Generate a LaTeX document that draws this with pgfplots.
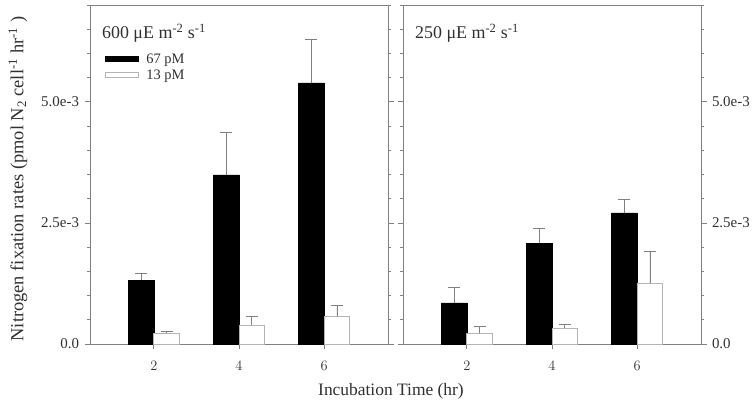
\documentclass[border=0pt]{standalone}
\usepackage{pgfplots}
\pgfplotsset{compat=1.18}
\usepackage{fontspec}
\setmainfont{Liberation Serif}
\definecolor{axgray}{HTML}{808080}
\definecolor{lgray}{HTML}{B4B4B4}
\definecolor{txt}{HTML}{303030}
\pgfplotsset{
  panel/.style={
    scale only axis, width=298bp, height=339bp,
    anchor=south west,
    xmin=0.5, xmax=7.5, ymin=0, ymax=7,
    axis line style={axgray, line width=0.8bp},
    tick style={axgray, line width=0.8bp},
    tick align=outside,
    major tick length=5.5bp, minor tick length=3bp,
    xtick={2,4,6}, xtick pos=bottom,
    ytick={0,2.5,5}, yticklabels={0.0,2.5e-3,5.0e-3},
    minor ytick={0,0.5,...,7},
    ytick pos=both,
    ticklabel style={font=\fontsize{15}{17}\selectfont, text=txt},
    xticklabel style={yshift=-8bp},
    clip=false,
  },
  bk/.style={ybar, bar width=0.6, bar shift=0, fill=black, draw=black, line width=0.5bp,
    error bars/y dir=plus, error bars/y explicit,
    error bars/error bar style={axgray, line width=0.8bp},
    error bars/error mark options={axgray, line width=0.8bp, mark size=6bp, rotate=90}},
  wh/.style={ybar, bar width=0.6, bar shift=0, fill=white, draw=lgray, line width=0.8bp,
    error bars/y dir=plus, error bars/y explicit,
    error bars/error bar style={axgray, line width=0.8bp},
    error bars/error mark options={axgray, line width=0.8bp, mark size=6bp, rotate=90}},
}
\begin{document}
\begin{tikzpicture}
\path[use as bounding box] (0bp,0bp) rectangle (756bp,404bp);
% left panel: 600
\begin{axis}[panel, at={(90bp,60bp)}, yticklabel pos=left,
  yticklabel style={xshift=-2bp},
  legend style={at={(0.05,0.862)}, anchor=north west, draw=none, fill=none,
    inner sep=0pt, font=\fontsize{14.5}{16}\selectfont, text=txt,
    row sep=2bp, nodes={inner sep=1.5bp},
    /tikz/every odd column/.append style={column sep=6bp}},
  legend cell align=left]
\addplot[bk, /pgfplots/legend image code/.code={\fill[black] (0bp,-2.5bp) rectangle (33bp,2.5bp);}]
  coordinates {(1.7,1.32) +- (0,0.14) (3.7,3.49) +- (0,0.88) (5.7,5.39) +- (0,0.89)};
\addlegendentry{67 pM}
\addplot[wh, /pgfplots/legend image code/.code={\draw[lgray, fill=white, line width=0.8bp] (0bp,-2.5bp) rectangle (33bp,2.5bp);}]
  coordinates {(2.3,0.22) +- (0,0.03) (4.3,0.39) +- (0,0.19) (6.3,0.57) +- (0,0.23)};
\addlegendentry{13 pM}
\node[anchor=base west, inner sep=0pt, font=\fontsize{18}{20}\selectfont, text=txt]
  at (rel axis cs:0.04,0.900) {600 μE m\textsuperscript{-2} s\textsuperscript{-1}};
\end{axis}
% right panel: 250
\begin{axis}[panel, at={(403bp,60bp)}, yticklabel pos=right, yticklabel style={xshift=2bp}]
\addplot[bk] coordinates {(1.7,0.85) +- (0,0.32) (3.7,2.08) +- (0,0.30) (5.7,2.71) +- (0,0.28)};
\addplot[wh] coordinates {(2.3,0.22) +- (0,0.14) (4.3,0.33) +- (0,0.08) (6.3,1.26) +- (0,0.66)};
\node[anchor=base west, inner sep=0pt, font=\fontsize{18}{20}\selectfont, text=txt]
  at (rel axis cs:0.04,0.900) {250 μE m\textsuperscript{-2} s\textsuperscript{-1}};
\end{axis}
\node[rotate=90, font=\fontsize{18.5}{20}\selectfont, text=txt] at (18bp,225bp)
  {Nitrogen fixation rates (pmol N\textsubscript{2} cell\textsuperscript{-1} hr\textsuperscript{-1} )};
\node[font=\fontsize{17.5}{20}\selectfont, text=txt] at (391bp,13bp) {Incubation Time (hr)};
\end{tikzpicture}
\end{document}
